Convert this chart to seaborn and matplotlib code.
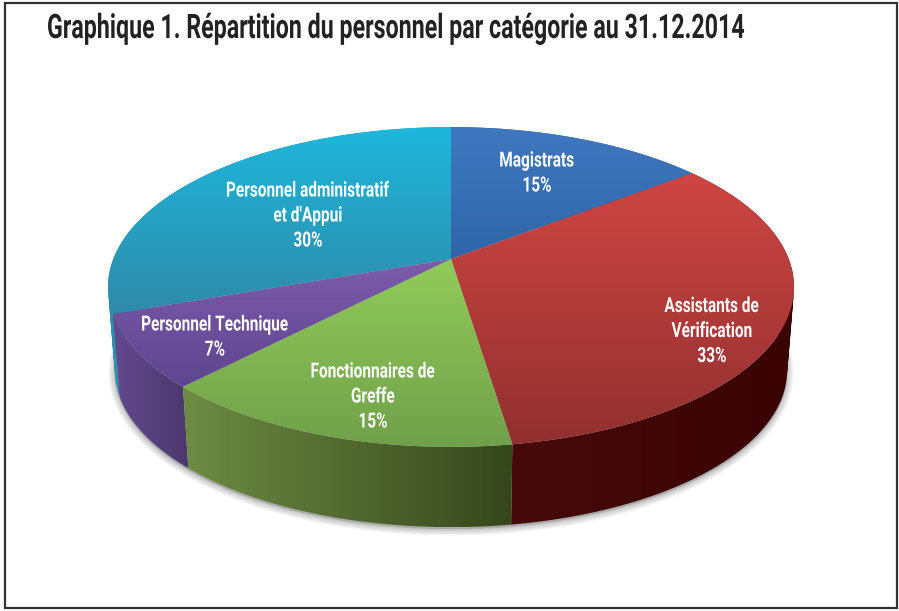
import matplotlib
matplotlib.use('Agg')
import matplotlib.pyplot as plt
import matplotlib.patheffects as pe
from matplotlib.patches import PathPatch, Polygon, Rectangle
from matplotlib.path import Path
from matplotlib.transforms import Affine2D
import numpy as np
import seaborn as sns

title = 'Graphique 1. Répartition du personnel par catégorie au 31.12.2014'
categories = ['Magistrats', 'Assistants de\nVérification', 'Fonctionnaires de\nGreffe',
              'Personnel Technique', "Personnel administratif\net d'Appui"]
pct_labels = ['15%', '33%', '15%', '7%', '30%']
shares = [14.5, 33.1, 14.6, 7.4, 30.4]

top_colors = [('#3f78bf', '#2f66a9'), ('#cf4643', '#923030'), ('#92cb5a', '#70a04a'),
              ('#7c5cab', '#5f4590'), ('#1eb7dc', '#2f8aa8')]
side_colors = [('#2f66a9', '#2f66a9'), ('#470a0a', '#3a0303'), ('#6d8c43', '#36461c'),
               ('#63498f', '#4c386d'), ('#2e90ad', '#2a84a0')]
label_xy = [(537, 173.5), (712, 331.5), (373, 397), (215, 337.5), (308, 216)]

sns.set_theme(style='white')
plt.rcParams['font.family'] = ['Roboto', 'DejaVu Sans']

CX, K, A, B = 451, 0.175, 155, 337.7


class Condense(pe.AbstractPathEffect):
    '''reshape drawn text, the reference font is a tall narrow one'''

    def __init__(self, x0, sx, y0=0, sy=1):
        super().__init__()
        self.x0, self.sx, self.y0, self.sy = x0, sx, y0, sy

    def draw_path(self, renderer, gc, tpath, affine, rgbFace=None):
        squeeze = (Affine2D().translate(-self.x0, -self.y0).scale(self.sx, self.sy)
                   .translate(self.x0, self.y0))
        renderer.draw_path(gc, tpath, affine + squeeze, rgbFace)


def rim(theta, apex_y=259, scale=1.0):
    '''perspective view of the pie circle, theta clockwise from the top'''
    den = 1 + K * np.cos(theta)
    return np.column_stack([CX + scale * B * np.sin(theta) / den,
                            apex_y - scale * A * np.cos(theta) / den])


def shaded(ax, path, colors, horizontal, z):
    '''fill a path with a two colour gradient'''
    cmap = sns.blend_palette(colors, as_cmap=True)
    grad = np.linspace(0, 1, 256)
    grad = grad[None, :] if horizontal else grad[:, None]
    x0, y0 = path.vertices.min(axis=0)
    x1, y1 = path.vertices.max(axis=0)
    im = ax.imshow(grad, cmap=cmap, extent=(x0, x1, y1, y0), aspect='auto', zorder=z,
                   interpolation='bilinear')
    patch = PathPatch(path, transform=ax.transData, fc='none', ec='none')
    ax.add_patch(patch)
    im.set_clip_path(patch)


def wall_path(t):
    '''wall as a row of quads, the two rims cross so one polygon would leave a hole'''
    up = rim(t)
    down = rim(t, apex_y=343, scale=0.98)
    quads = []
    for j in range(len(t) - 1):
        q = np.array([up[j], up[j + 1], down[j + 1], down[j], up[j]])
        area = np.sum(q[:-1, 0] * q[1:, 1] - q[1:, 0] * q[:-1, 1])
        if area < 0:
            q = q[::-1]
        quads.append(Path(q, closed=True))
    return Path.make_compound_path(*quads)


fig = plt.figure(figsize=(8.99, 6.11), dpi=100, facecolor='white')
ax = fig.add_axes([0, 0, 1, 1])

edges = np.radians(np.concatenate([[0], np.cumsum(shares)]) / np.sum(shares) * 360)

# soft shadow round the foot of the pie
foot = rim(np.linspace(0, 2 * np.pi, 361), apex_y=345, scale=0.98)
for lw in [9, 7, 5, 3, 1.5]:
    ax.add_patch(Polygon(foot, closed=True, fc='#777777', ec='#777777', lw=lw, alpha=0.09, zorder=1))

# walls first, back ones before the front ones
for n, i in enumerate([0, 4, 1, 3, 2]):
    t = np.linspace(edges[i], edges[i + 1], 120)
    shaded(ax, wall_path(t), side_colors[i], True, 2 + n * 0.1)

# top faces
for i in range(len(shares)):
    t = np.linspace(edges[i], edges[i + 1], 120)
    face = np.vstack([[[CX, 259]], rim(t), [[CX, 259]]])
    shaded(ax, Path(face, closed=True), top_colors[i], False, 3 + i * 0.1)

for cat, pct, (x, y) in zip(categories, pct_labels, label_xy):
    ax.text(x, y, cat + '\n' + pct, color='white', fontsize=15, fontweight='bold',
            ha='center', va='center', linespacing=1.4, zorder=5,
            path_effects=[Condense(x, 0.74)])

# 611 - 38 is the baseline in display pixels
ax.text(47, 38, title, color='#222222', fontsize=20, fontweight='bold', ha='left', va='baseline',
        zorder=5, path_effects=[Condense(47, 0.836, 573, 1.215)])
ax.add_patch(Rectangle((5, 3), 892, 605, fc='none', ec='#333333', lw=1.6, zorder=6))

ax.set_xlim(0, 899)
ax.set_ylim(611, 0)
ax.axis('off')
fig.savefig('out.png', dpi=100, facecolor='white')
